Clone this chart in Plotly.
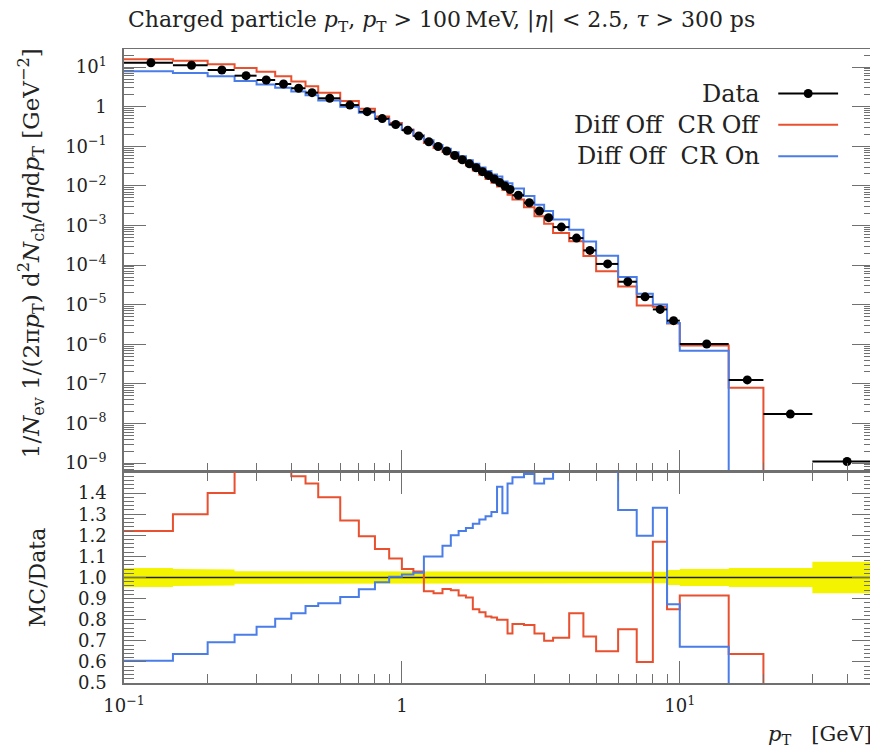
import plotly.graph_objects as go

# ---------------- data ----------------
edges = [0.1, 0.15, 0.2, 0.25, 0.3, 0.35, 0.4, 0.45, 0.5,
         0.6, 0.7, 0.8, 0.9, 1.0, 1.1, 1.2, 1.3, 1.4, 1.5, 1.6, 1.7, 1.8, 1.9, 2.0,
         2.1, 2.2, 2.3, 2.4, 2.5, 2.75, 3.0, 3.25, 3.5, 4.0, 4.5, 5.0,
         6.0, 7.0, 8.0, 9.0, 10.0, 15.0, 20.0, 30.0, 50.0]

data_vals = [12.9, 11.1, 8.45, 6.07, 4.72, 3.74, 2.92, 2.26,
             1.63, 1.10, 0.748, 0.50, 0.355, 0.255, 0.182, 0.130, 0.0986, 0.0759,
             0.0587, 0.0458, 0.0361, 0.0287, 0.0229, 0.0184, 0.0149, 0.0121, 0.0099,
             0.0081, 0.0058, 0.00375, 0.00232, 0.00158, 0.00091, 0.00048, 0.000235,
             1.07e-4, 3.8e-5, 1.58e-5, 7.6e-6, 3.95e-6, 1.02e-6, 1.26e-7, 1.73e-8, 1.1e-9]

data_rel_err = [0.045, 0.04, 0.038, 0.03, 0.03, 0.03, 0.03, 0.03,
                0.027, 0.027, 0.027, 0.027, 0.027, 0.027, 0.027, 0.027, 0.027, 0.027,
                0.027, 0.027, 0.027, 0.027, 0.027, 0.027, 0.027, 0.027, 0.027, 0.027,
                0.027, 0.027, 0.027, 0.027, 0.027, 0.027, 0.027, 0.027, 0.027, 0.027,
                0.027, 0.035, 0.04, 0.045, 0.045, 0.075]

ratio_cr_off = [1.22, 1.30, 1.40, 1.56, 1.62, 1.56, 1.48, 1.445,
                1.38, 1.27, 1.195, 1.135, 1.09, 1.04, 1.028, 0.935, 0.925, 0.945,
                0.94, 0.915, 0.905, 0.85, 0.835, 0.815, 0.81, 0.80, 0.80, 0.735,
                0.78, 0.775, 0.735, 0.70, 0.715, 0.83, 0.72, 0.65, 0.755, 0.60,
                1.17, 0.85, 0.915, 0.637, 0.0, 0.0]

ratio_cr_on = [0.606, 0.638, 0.693, 0.729, 0.766, 0.805, 0.83, 0.865,
               0.878, 0.907, 0.944, 0.978, 1.003, 1.014, 1.022, 1.10, 1.10, 1.15,
               1.20, 1.22, 1.235, 1.255, 1.275, 1.29, 1.31, 1.43, 1.305, 1.445,
               1.475, 1.49, 1.445, 1.468, 1.56, 1.62, 1.68, 1.62, 1.32, 1.198,
               1.331, 0.873, 0.672, 0.0, 0.0, 0.0]

series_names = ["Data", "Diff Off\u00a0\u00a0CR Off", "Diff Off\u00a0\u00a0CR On"]
series_colors = ["#000000", "#E8502F", "#4A7DE8"]

x_tickvals = [0.1, 1, 10]
x_ticktext = ["10<sup>\u22121</sup>", "1", "10<sup>1</sup>"]
y_tickvals = [10.0 ** e for e in range(1, -10, -1)]
y_ticktext = ["10<sup>1</sup>", "1"] + ["10<sup>\u2212%d</sup>" % k for k in range(1, 10)]
r_tickvals = [0.5, 0.6, 0.7, 0.8, 0.9, 1.0, 1.1, 1.2, 1.3, 1.4]
r_ticktext = ["0.5", "0.6", "0.7", "0.8", "0.9", "1.0", "1.1", "1.2", "1.3", "1.4"]

Y_LOG_RANGE = [-9.225, 1.457]
R_RANGE = [0.5, 1.5]
X_LOG_RANGE = [-1.0, 1.69897]

FONT = "DejaVu Serif"
FRAME = "#707070"
BODY_MARGIN = 8  # page body margin of the html wrapper


def steps(vals):
    xs, ys = [], []
    for i, v in enumerate(vals):
        xs += [edges[i], edges[i + 1]]
        ys += [v, v]
    return xs, ys


floor_val = 10 ** (Y_LOG_RANGE[0] - 2)
mc_off = [d * r if r > 0 else floor_val for d, r in zip(data_vals, ratio_cr_off)]
mc_on = [d * r if r > 0 else floor_val for d, r in zip(data_vals, ratio_cr_on)]

centers = [(edges[i] + edges[i + 1]) / 2 for i in range(len(data_vals))]
ex_plus = [edges[i + 1] - centers[i] for i in range(len(data_vals))]
ex_minus = [centers[i] - edges[i] for i in range(len(data_vals))]
ey = [d * e for d, e in zip(data_vals, data_rel_err)]

fig = go.Figure()

# ---------------- top panel ----------------
for vals, col in ((mc_off, series_colors[1]), (mc_on, series_colors[2])):
    xs, ys = steps(vals)
    fig.add_trace(go.Scatter(x=xs, y=ys, mode="lines", line=dict(color=col, width=2),
                             xaxis="x", yaxis="y", showlegend=False, hoverinfo="skip"))

fig.add_trace(go.Scatter(
    x=centers, y=data_vals, mode="markers",
    marker=dict(color="black", size=9),
    error_x=dict(type="data", symmetric=False, array=ex_plus, arrayminus=ex_minus,
                 color="black", thickness=2, width=0),
    error_y=dict(type="data", array=ey, color="black", thickness=2, width=0),
    xaxis="x", yaxis="y", showlegend=False, name=series_names[0]))

# ---------------- ratio panel ----------------
bx, by_hi = steps([1 + e for e in data_rel_err])
_, by_lo = steps([1 - e for e in data_rel_err])
fig.add_trace(go.Scatter(x=bx + bx[::-1], y=by_hi + by_lo[::-1], fill="toself",
                         fillcolor="#F4F400", line=dict(width=0), mode="lines",
                         xaxis="x2", yaxis="y2", showlegend=False, hoverinfo="skip"))
xs, ys = steps([d / d for d in data_vals])
fig.add_trace(go.Scatter(x=xs, y=ys, mode="lines", line=dict(color="#222222", width=1.5),
                         xaxis="x2", yaxis="y2", showlegend=False, hoverinfo="skip"))
for vals, col in ((ratio_cr_off, series_colors[1]), (ratio_cr_on, series_colors[2])):
    xs, ys = steps(vals)
    fig.add_trace(go.Scatter(x=xs, y=ys, mode="lines", line=dict(color=col, width=2),
                             xaxis="x2", yaxis="y2", showlegend=False, hoverinfo="skip"))

# ---------------- axes ----------------
x_minor = [k * 10.0 ** e for e in (-1, 0, 1) for k in range(2, 10) if k * 10.0 ** e < 50]
y_minor = [k * 10.0 ** e for e in range(-10, 2) for k in range(2, 10)]

PLOT_H = 634.0
split = 211.0 / PLOT_H

common_axis = dict(showline=True, linecolor=FRAME,
                   ticks="inside", tickcolor=FRAME, tickwidth=1.2, showgrid=False,
                   zeroline=False, tickfont=dict(family=FONT, size=18, color="#222"))

fig.update_layout(
    width=878 - BODY_MARGIN, height=752 - BODY_MARGIN,
    margin=dict(l=124 - BODY_MARGIN, r=2, t=49 - BODY_MARGIN, b=69),
    paper_bgcolor="white", plot_bgcolor="white",
    showlegend=False,
    xaxis=dict(type="log", range=X_LOG_RANGE, anchor="y", domain=[0, 1], matches="x2",
               tickmode="array", tickvals=x_tickvals, ticktext=x_ticktext,
               showticklabels=False, ticklen=22, mirror=True, linewidth=1,
               minor=dict(tickmode="array", tickvals=x_minor, ticks="inside", ticklen=9,
                          tickcolor=FRAME, tickwidth=1.2, showgrid=False),
               **common_axis),
    yaxis=dict(type="log", range=Y_LOG_RANGE, anchor="x", domain=[split, 1],
               tickmode="array", tickvals=y_tickvals, ticktext=y_ticktext,
               ticklen=22, ticklabelstandoff=12, mirror="allticks", linewidth=1.5,
               minor=dict(tickmode="array", tickvals=y_minor, ticks="inside", ticklen=10,
                          tickcolor=FRAME, tickwidth=1.2, showgrid=False),
               **common_axis),
    xaxis2=dict(type="log", range=X_LOG_RANGE, anchor="y2", domain=[0, 1],
                tickmode="array", tickvals=x_tickvals, ticktext=x_ticktext,
                ticklen=22, ticklabelstandoff=6, mirror="allticks", linewidth=1.5,
                minor=dict(tickmode="array", tickvals=x_minor, ticks="inside", ticklen=9,
                           tickcolor=FRAME, tickwidth=1.2, showgrid=False),
                **common_axis),
    yaxis2=dict(range=R_RANGE, anchor="x2", domain=[0, split],
                tickmode="array", tickvals=r_tickvals, ticktext=r_ticktext,
                ticklen=22, ticklabelstandoff=12, mirror="allticks", linewidth=1.5,
                minor=dict(dtick=0.02, ticks="inside", ticklen=10,
                           tickcolor=FRAME, tickwidth=1.2, showgrid=False),
                **common_axis),
)

# ---------------- texts ----------------
anns = []
anns.append(dict(text="Charged particle <i>p</i><sub>T</sub>, <i>p</i><sub>T</sub> &gt; 100\u2009MeV, "
                      "|<i>\u03b7</i>| &lt; 2.5, <i>\u03c4</i> &gt; 300 ps",
                 xref="paper", yref="paper", x=(126 - 124) / 752.0, y=1 + (49 - 21) / PLOT_H,
                 xanchor="left", yanchor="middle", showarrow=False,
                 font=dict(family=FONT, size=22, color="#222")))
anns.append(dict(text="1/<i>N</i><sub>ev</sub> 1/(2\u03c0<i>p</i><sub>T</sub>) d<sup>2</sup><i>N</i><sub>ch</sub>"
                      "/d<i>\u03b7</i>d<i>p</i><sub>T</sub> [GeV<sup>\u22122</sup>]",
                 xref="paper", yref="paper", x=(30 - 124) / 752.0, y=1 - (253 - 49) / PLOT_H,
                 xanchor="center", yanchor="middle", textangle=-90, showarrow=False,
                 font=dict(family=FONT, size=23, color="#222")))
anns.append(dict(text="MC/Data", xref="paper", yref="paper",
                 x=(37 - 124) / 752.0, y=1 - (578 - 49) / PLOT_H,
                 xanchor="center", yanchor="middle", textangle=-90, showarrow=False,
                 font=dict(family=FONT, size=22, color="#222")))
anns.append(dict(text="<i>p</i><sub>T</sub>\u00a0\u00a0\u00a0[GeV]", xref="paper", yref="paper",
                 x=1.0, y=1 - (735 - 49) / PLOT_H, xanchor="right", yanchor="middle",
                 showarrow=False, font=dict(family=FONT, size=21, color="#222")))

# legend (text right-aligned, sample to the right, as in the reference)
shapes = []
leg_rows_px = [93.5, 124.8, 156.3]
for name, col, ypx in zip(series_names, series_colors, leg_rows_px):
    yp = 1 - (ypx - 49) / PLOT_H
    anns.append(dict(text=name, xref="paper", yref="paper", x=(764 - 124) / 752.0, y=yp,
                     xanchor="right", yanchor="middle", showarrow=False,
                     font=dict(family=FONT, size=24, color="#222")))
    shapes.append(dict(type="line", xref="paper", yref="paper",
                       x0=(780 - 124) / 752.0, x1=(840 - 124) / 752.0, y0=yp, y1=yp,
                       line=dict(color=col, width=2)))
    if name == "Data":
        r = 4.5
        shapes.append(dict(type="circle", xref="paper", yref="paper",
                           x0=(810 - r - 124) / 752.0, x1=(810 + r - 124) / 752.0,
                           y0=yp - r / PLOT_H, y1=yp + r / PLOT_H,
                           fillcolor="black", line=dict(color="black", width=0)))

fig.update_layout(annotations=anns, shapes=shapes)

fig.write_html("out.html")
